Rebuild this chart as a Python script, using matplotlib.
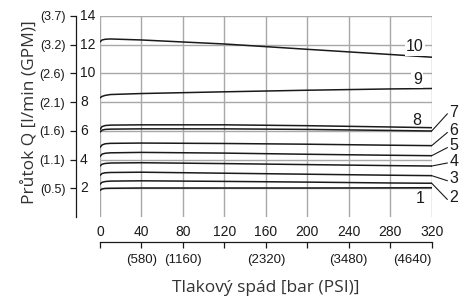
import matplotlib
matplotlib.use("Agg")
import matplotlib.pyplot as plt
import matplotlib.transforms as mtrans

# pressure drop [bar]
x = [0, 2, 5, 10, 40, 120, 200, 280, 320]

# flow curves [l/min], curve number -> values at x
flows = {
    10: [12.2, 12.33, 12.38, 12.4, 12.33, 12.05, 11.68, 11.32, 11.13],
    9: [8.3, 8.4, 8.47, 8.53, 8.6, 8.72, 8.83, 8.92, 8.95],
    8: [6.1, 6.3, 6.37, 6.4, 6.42, 6.42, 6.36, 6.27, 6.22],
    7: [5.92, 6.05, 6.1, 6.12, 6.14, 6.14, 6.1, 6.03, 5.99],
    6: [4.85, 5.02, 5.1, 5.13, 5.15, 5.12, 5.07, 5.0, 4.97],
    5: [4.22, 4.38, 4.44, 4.47, 4.5, 4.45, 4.37, 4.3, 4.27],
    4: [3.55, 3.68, 3.73, 3.76, 3.78, 3.72, 3.65, 3.58, 3.55],
    3: [2.9, 3.03, 3.08, 3.1, 3.12, 3.05, 2.98, 2.91, 2.88],
    2: [2.28, 2.42, 2.47, 2.5, 2.52, 2.48, 2.43, 2.37, 2.35],
    1: [1.85, 1.95, 1.99, 2.0, 2.02, 2.02, 2.02, 2.03, 2.04],
}

# labels placed inside the plot (number -> x, y)
inner_labels = {10: (304, 11.85), 9: (306, 9.6), 8: (306, 6.75), 1: (309, 1.3)}
# labels outside with leader lines (number -> label y)
outer_labels = {7: 7.3, 6: 6.0, 5: 4.95, 4: 3.88, 3: 2.65, 2: 1.35}

y_ticks = [2, 4, 6, 8, 10, 12, 14]
gpm_labels = ["(0.5)", "(1.1)", "(1.6)", "(2.1)", "(2.6)", "(3.2)", "(3.7)"]
x_ticks = [0, 40, 80, 120, 160, 200, 240, 280, 320]
psi_ticks = [40, 80, 160, 240, 320]
psi_labels = ["(580)", "(1160)", "(2320)", "(3480)", "(4640)"]

narrow = ["Liberation Sans", "DejaVu Sans"]
title_font = ["Open Sans", "DejaVu Sans"]
grid_c = "#a8a8a8"
ink = "#1a1a1a"

W, H = 459, 300
fig = plt.figure(figsize=(W / 100, H / 100), dpi=100)
ax = fig.add_axes([100 / W, (H - 217) / H, 331.7 / W, 201 / H])
ax.set_xlim(0, 320)
ax.set_ylim(0, 14)

for s in ["top", "right", "bottom"]:
    ax.spines[s].set_visible(False)
ax.spines["left"].set_position(("outward", 17))
ax.spines["left"].set_linewidth(0.9)
ax.spines["left"].set_color(ink)

# grid box
for xv in x_ticks:
    ax.axvline(xv, color=grid_c, lw=1, zorder=1)
for yv in y_ticks:
    ax.axhline(yv, color=grid_c, lw=1, zorder=1)

ax.set_yticks(y_ticks)
ax.set_yticklabels(gpm_labels, family=narrow, fontsize=9, color=ink)
ax.tick_params(axis="y", direction="out", length=4, width=0.9, pad=4,
               color=ink)
ax.set_xticks(x_ticks)
ax.set_xticklabels([str(v) for v in x_ticks], family=narrow, fontsize=10,
                   color=ink)
ax.tick_params(axis="x", length=0, pad=6)

# bar labels between spine and plot box
bt = mtrans.blended_transform_factory(fig.transFigure, ax.transData)
for yv in y_ticks:
    fig.text(80 / W, yv, str(yv), transform=bt, ha="left", va="center",
             family=narrow, fontsize=10, color=ink)

for n, vals in flows.items():
    ax.plot(x, vals, color=ink, lw=1.1, zorder=3)

for n, (lx, ly) in inner_labels.items():
    ax.text(lx, ly, str(n), ha="center", va="center", family=narrow,
            fontsize=11.5, zorder=4, color=ink,
            bbox=dict(fc="white", ec="none", pad=1) if n in (10, 9) else None)

for n, ly in outer_labels.items():
    y_end = flows[n][-1]
    ax.plot([320, 335], [y_end, ly - 0.12], color=ink, lw=0.8,
            clip_on=False)
    ax.text(337, ly, str(n), ha="left", va="center", family=narrow,
            fontsize=11.5, clip_on=False, color=ink)

fig.text(30 / W, (H - 112) / H, "Průtok Q [l/min (GPM)]", rotation=90,
         ha="center", va="center", family=title_font, fontsize=12.5,
         color="#333333")

# PSI scale
ax2 = fig.add_axes([100 / W, (H - 242) / H, 331.7 / W, 0.0001])
ax2.set_xlim(0, 320)
for s in ["top", "right", "left"]:
    ax2.spines[s].set_visible(False)
ax2.spines["bottom"].set_linewidth(0.9)
ax2.spines["bottom"].set_color(ink)
ax2.set_yticks([])
ax2.set_xticks(x_ticks)
ax2.set_xticklabels([""] * len(x_ticks))
ax2.tick_params(axis="x", direction="out", length=4, width=0.9, color=ink)
pt = mtrans.blended_transform_factory(ax2.transData, fig.transFigure)
for xv, lab in zip(psi_ticks, psi_labels):
    ax2.text(xv, (H - 260) / H, lab, transform=pt,
             ha="right" if xv == 320 else "center",
             va="center", family=narrow, fontsize=9.5, color=ink)

fig.text((100 + 331.7 / 2) / W, (H - 288) / H, "Tlakový spád [bar (PSI)]",
         ha="center", va="center", family=title_font, fontsize=12.5,
         color="#333333")

fig.savefig("out.png", dpi=100)
